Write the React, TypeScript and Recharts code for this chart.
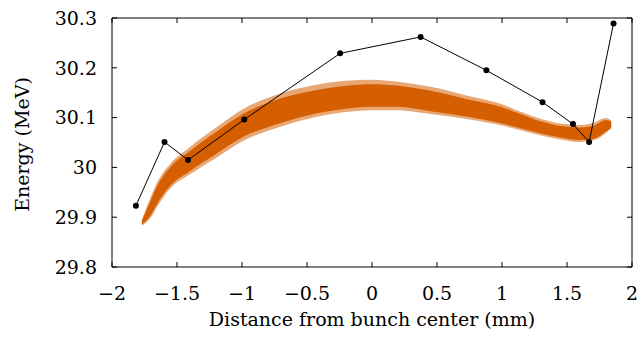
import React from "react";
import {
  ComposedChart,
  Area,
  Line,
  XAxis,
  YAxis,
  Label,
  ReferenceLine,
} from "recharts";

// energy vs. position along the bunch
const bandX = [-1.77, -1.7, -1.65, -1.55, -1.4, -1.2, -1.0, -0.7, -0.45, -0.2, 0.0, 0.2, 0.45, 0.75, 1.0, 1.15, 1.3, 1.45, 1.6, 1.7, 1.8, 1.84];
const bandLow = [29.885, 29.905, 29.928, 29.964, 29.993, 30.027, 30.06, 30.089, 30.107, 30.118, 30.122, 30.122, 30.113, 30.101, 30.088, 30.078, 30.068, 30.06, 30.055, 30.057, 30.072, 30.08];
const bandHigh = [29.893, 29.935, 29.964, 30.001, 30.033, 30.071, 30.106, 30.139, 30.154, 30.164, 30.167, 30.164, 30.154, 30.136, 30.121, 30.106, 30.092, 30.083, 30.08, 30.083, 30.095, 30.092];
// sparse particles around the dense core
const fringeLow = [29.883, 29.9, 29.922, 29.958, 29.986, 30.019, 30.052, 30.082, 30.1, 30.111, 30.115, 30.115, 30.107, 30.096, 30.084, 30.074, 30.064, 30.056, 30.051, 30.054, 30.069, 30.078];
const fringeHigh = [29.895, 29.942, 29.971, 30.008, 30.041, 30.08, 30.116, 30.149, 30.165, 30.174, 30.176, 30.172, 30.162, 30.143, 30.127, 30.111, 30.097, 30.088, 30.085, 30.089, 30.099, 30.094];

// slice mean energies (black markers)
const sliceX = [-1.816, -1.596, -1.415, -0.983, -0.245, 0.374, 0.88, 1.312, 1.546, 1.67, 1.858];
const sliceE = [29.923, 30.051, 30.015, 30.096, 30.229, 30.262, 30.195, 30.131, 30.087, 30.051, 30.289];

const xTicks = [-2, -1.5, -1, -0.5, 0, 0.5, 1, 1.5, 2];
const yTicks = [29.8, 29.9, 30, 30.1, 30.2, 30.3];

const ORANGE = "#D55E00";
const FONT = "'DejaVu Serif', serif";

// plot box in px, used only for the little inward tick marks
const TOP = 18;
const BOTTOM = 267;
const LEFT = 112;
const RIGHT = 632;
const TICK = 5;

const bandData = bandX.map((x, i) => ({
  x,
  band: [bandLow[i], bandHigh[i]],
  fringe: [fringeLow[i], fringeHigh[i]],
}));
const sliceData = sliceX.map((x, i) => ({ x, e: sliceE[i] }));

const fmtX = (v: number) => String(v).replace("-", "\u2212");
const fmtY = (v: number) => String(Number(v.toFixed(1)));

function XTick({ x, y, payload }: any) {
  return (
    <g>
      <line x1={x} x2={x} y1={BOTTOM} y2={BOTTOM - TICK} stroke="#000" />
      <line x1={x} x2={x} y1={TOP} y2={TOP + TICK} stroke="#000" />
      <text x={x} y={y} dy="0.71em" textAnchor="middle" fill="#000" fontSize={19} fontFamily={FONT}>
        {fmtX(payload.value)}
      </text>
    </g>
  );
}

function YTick({ x, y, payload }: any) {
  return (
    <g>
      <line x1={LEFT} x2={LEFT + TICK} y1={y} y2={y} stroke="#000" />
      <line x1={RIGHT} x2={RIGHT - TICK} y1={y} y2={y} stroke="#000" />
      <text x={x} y={y} dy="0.355em" textAnchor="end" fill="#000" fontSize={19} fontFamily={FONT}>
        {fmtY(payload.value)}
      </text>
    </g>
  );
}

function YTitle({ viewBox }: any) {
  const cx = viewBox.x + 29;
  const cy = viewBox.y + viewBox.height / 2 + 2;
  return (
    <text
      x={cx}
      y={cy}
      transform={`rotate(-90 ${cx} ${cy})`}
      textAnchor="middle"
      fill="#000"
      fontSize={19}
      fontFamily={FONT}
    >
      Energy (MeV)
    </text>
  );
}

export default function App() {
  return (
    <div style={{ width: 637, height: 338, fontFamily: FONT, background: "#fff" }}>
      <style>{"body{margin:0}"}</style>
      <ComposedChart
        width={637}
        height={338}
        margin={{ top: TOP, right: 637 - RIGHT, bottom: 0, left: 0 }}
      >
        <XAxis
          dataKey="x"
          type="number"
          domain={[-2, 2]}
          ticks={xTicks}
          allowDataOverflow
          height={338 - BOTTOM}
          tickSize={0}
          tickMargin={20}
          tickLine={false}
          tick={<XTick />}
          axisLine={{ stroke: "#000" }}
        >
          <Label
            value="Distance from bunch center (mm)"
            position="insideBottom"
            offset={12}
            fill="#000"
            fontSize={19}
          />
        </XAxis>
        <YAxis
          type="number"
          domain={[29.8, 30.3]}
          ticks={yTicks}
          allowDataOverflow
          width={LEFT}
          tickSize={0}
          tickMargin={15}
          tickLine={false}
          tick={<YTick />}
          axisLine={{ stroke: "#000" }}
        >
          <Label content={<YTitle />} />
        </YAxis>
        <ReferenceLine x={2} stroke="#000" ifOverflow="visible" />
        <ReferenceLine y={30.3} stroke="#000" ifOverflow="visible" />
        <Area
          data={bandData}
          dataKey="fringe"
          type="monotone"
          stroke="none"
          fill={ORANGE}
          fillOpacity={0.55}
          isAnimationActive={false}
        />
        <Area
          data={bandData}
          dataKey="band"
          type="monotone"
          stroke="none"
          fill={ORANGE}
          fillOpacity={1}
          isAnimationActive={false}
        />
        <Line
          data={sliceData}
          dataKey="e"
          type="linear"
          stroke="#000"
          strokeWidth={1}
          dot={{ r: 3, fill: "#000", stroke: "none" }}
          activeDot={false}
          isAnimationActive={false}
        />
      </ComposedChart>
    </div>
  );
}
